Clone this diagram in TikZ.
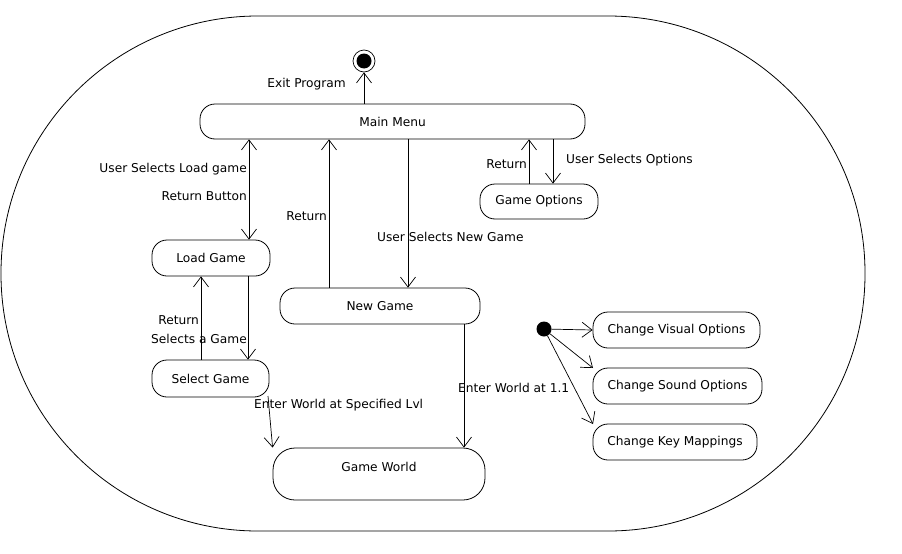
\documentclass[tikz,border=0pt]{standalone}
\usepackage{fontspec}
\setmainfont{DejaVu Sans}
\usetikzlibrary{arrows.meta}
\begin{document}
\begin{tikzpicture}[x=1pt,y=-1pt,
  every node/.style={font=\fontsize{12.2}{14}\selectfont},
  state/.style={draw,line width=0.8pt,rounded corners=15pt,inner sep=0pt},
  arr/.style={line width=0.7pt,-{Straight Barb[length=10pt,width=15pt,line width=0.7pt]}},
  darr/.style={line width=0.7pt,{Straight Barb[length=10pt,width=15pt,line width=0.7pt]}-{Straight Barb[length=10pt,width=15pt,line width=0.7pt]}},
  lbl/.style={inner sep=0pt}]
\useasboundingbox (0,0) rectangle (902,554);
% outer region
\draw[line width=0.8pt,rounded corners=257pt] (1,16) rectangle (865,531);
% states
\node[state,minimum width=385pt,minimum height=35pt] (mm) at (392.5,121.5) {Main Menu};
\node[state,minimum width=118pt,minimum height=36pt] (lg) at (211,258) {Load Game};
\node[state,minimum width=117pt,minimum height=37pt] (sg) at (210.5,378.5) {Select Game};
\node[state,minimum width=200pt,minimum height=36pt] (ng) at (380,306) {New Game};
\node[state,minimum width=118pt,minimum height=35pt] (go) at (539,201.5) {Game Options};
\node[state,rounded corners=22pt,minimum width=212pt,minimum height=52pt,text height=9pt,text depth=14pt] (gw) at (379,474) {Game World};
\node[state,minimum width=167pt,minimum height=36pt] (cv) at (676.5,330) {Change Visual Options};
\node[state,minimum width=169pt,minimum height=36pt] (cs) at (677.5,386) {Change Sound Options};
\node[state,minimum width=164pt,minimum height=36pt] (ck) at (675,442) {Change Key Mappings};
% pseudo states
\node[circle,fill=black,minimum size=15pt,inner sep=0pt] (init) at (544,329) {};
\node[circle,draw,line width=0.7pt,minimum size=22pt,inner sep=0pt] (fin) at (364,61) {};
\fill (fin.center) circle (7.5pt);
% transitions
\draw[arr] (364,0 |- mm.north) -- (fin.south);
\node[lbl,anchor=east] (l1) at (346,84) {Exit Program};
\draw[darr] (249,0 |- mm.south) -- (249,0 |- lg.north);
\node[lbl,anchor=east] (l2) at (247,169) {User Selects Load game};
\node[lbl,anchor=east] (l3) at (247,196) {Return Button};
\draw[arr] (329,0 |- ng.north) -- (329,0 |- mm.south);
\node[lbl,anchor=east] (l4) at (327,216) {Return};
\draw[arr] (408,0 |- mm.south) -- (408,0 |- ng.north);
\node[lbl,anchor=west] (l5) at (377,237) {User Selects New Game};
\draw[arr] (529,0 |- go.north) -- (529,0 |- mm.south);
\node[lbl,anchor=east] (l6) at (527,164) {Return};
\draw[arr] (553,0 |- mm.south) -- (553,0 |- go.north);
\node[lbl,anchor=west] (l7) at (566,160) {User Selects Options};
\draw[arr] (201,0 |- sg.north) -- (201,0 |- lg.south);
\node[lbl,anchor=east] (l8) at (199,320) {Return};
\draw[arr] (248,0 |- lg.south) -- (248,0 |- sg.north);
\node[lbl] (l9) at (199,339) {Selects a Game};
\draw[arr] (268,396) -- (gw.north west);
\node[lbl,anchor=west] (l10) at (254,405) {Enter World at Specified Lvl};
\draw[arr] (464,0 |- ng.south) -- (464,0 |- gw.north);
\node[lbl,anchor=west] (l11) at (458,388) {Enter World at 1.1};
\draw[arr] (init) -- (cv.west);
\draw[arr] (init) -- (593,368);
\draw[arr] (init) -- (593,424);
\end{tikzpicture}
\end{document}
